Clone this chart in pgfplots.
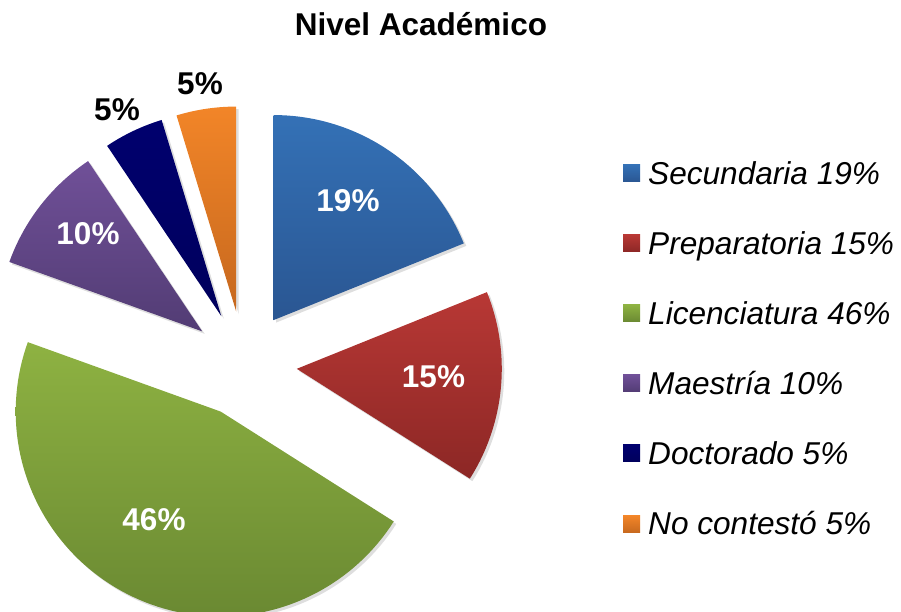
\documentclass[border=0pt]{standalone}
\usepackage{pgfplots}
\pgfplotsset{compat=1.18}
\usepackage{fontspec}
\setmainfont{Liberation Sans}

\definecolor{secT}{RGB}{52,113,182}
\definecolor{secB}{RGB}{42,86,146}
\definecolor{preT}{RGB}{184,56,53}
\definecolor{preB}{RGB}{140,39,37}
\definecolor{licT}{RGB}{142,178,66}
\definecolor{licB}{RGB}{106,137,50}
\definecolor{maeT}{RGB}{112,80,152}
\definecolor{maeB}{RGB}{82,60,116}
\definecolor{docT}{RGB}{0,0,110}
\definecolor{docB}{RGB}{0,0,92}
\definecolor{ncT}{RGB}{242,133,40}
\definecolor{ncB}{RGB}{198,104,30}

% pie geometry (axis units = pixels): centre, radius, explosion
\def\pcx{244}\def\pcy{248}\def\prad{205}\def\pexp{53}
\gdef\cum{0}
\newcommand\slice[3]{%
  \pgfmathsetmacro\sa{90-3.6*\cum}%
  \pgfmathsetmacro\sb{90-3.6*(\cum+#1)}%
  \pgfmathsetmacro\smid{(\sa+\sb)/2}%
  \pgfmathsetmacro\ax{\pcx+\pexp*cos(\smid)}%
  \pgfmathsetmacro\ay{\pcy+\pexp*sin(\smid)}%
  \pgfmathsetmacro\sx{\ax+2.5}%
  \pgfmathsetmacro\sy{\ay-2.5}%
  \edef\temp{\noexpand\addplot[draw=none, fill=black, fill opacity=0.13,
     domain=\sb:\sa, samples=90, variable=\noexpand\t, forget plot]
     ({\sx+\prad*cos(\noexpand\t)}, {\sy+\prad*sin(\noexpand\t)})
     -- (axis cs:\sx,\sy) -- cycle;
     \noexpand\addplot[draw=none, top color=#2, bottom color=#3,
     domain=\sb:\sa, samples=90, variable=\noexpand\t]
     ({\ax+\prad*cos(\noexpand\t)}, {\ay+\prad*sin(\noexpand\t)})
     -- (axis cs:\ax,\ay) -- cycle;}%
  \temp
  \pgfmathsetmacro\tmpc{\cum+#1}%
  \xdef\cum{\tmpc}%
}

\begin{document}
\begin{tikzpicture}
\begin{axis}[width=901bp, height=612bp, scale only axis,
  xmin=0, xmax=901, ymin=0, ymax=612, hide axis, clip=true]
% percentages (Secundaria, Preparatoria, Licenciatura, Maestria, Doctorado, No contesto)
\slice{18.9}{secT}{secB}
\slice{15.1}{preT}{preB}
\slice{46.5}{licT}{licB}
\slice{10.1}{maeT}{maeB}
\slice{4.7}{docT}{docB}
\slice{4.7}{ncT}{ncB}

% title
\node[anchor=base, font=\fontsize{31.5bp}{36bp}\selectfont\bfseries] at (axis cs:421,576) {Nivel Académico};

% slice labels
\begin{scope}[font=\fontsize{31.5bp}{36bp}\selectfont\bfseries]
\node[anchor=base, text=white] at (axis cs:348,400) {19\%};
\node[anchor=base, text=white] at (axis cs:433.5,224) {15\%};
\node[anchor=base, text=white] at (axis cs:154,81) {46\%};
\node[anchor=base, text=white] at (axis cs:88,367) {10\%};
\node[anchor=base, text=black] at (axis cs:117,491) {5\%};
\node[anchor=base, text=black] at (axis cs:200,517) {5\%};
\end{scope}

% legend
\fill[top color=secT, bottom color=secB] (axis cs:623,447) rectangle (axis cs:640,430);
\fill[top color=preT, bottom color=preB] (axis cs:623,377) rectangle (axis cs:640,360);
\fill[top color=licT, bottom color=licB] (axis cs:623,307) rectangle (axis cs:640,290);
\fill[top color=maeT, bottom color=maeB] (axis cs:623,237) rectangle (axis cs:640,220);
\fill[top color=docT, bottom color=docB] (axis cs:623,167) rectangle (axis cs:640,150);
\fill[top color=ncT, bottom color=ncB] (axis cs:623,96) rectangle (axis cs:640,79);
\begin{scope}[font=\fontsize{31.6bp}{36bp}\selectfont\itshape]
\node[anchor=base west, inner sep=0pt] at (axis cs:648,427.5) {Secundaria 19\%};
\node[anchor=base west, inner sep=0pt] at (axis cs:648,357.5) {Preparatoria 15\%};
\node[anchor=base west, inner sep=0pt] at (axis cs:648,287.5) {Licenciatura 46\%};
\node[anchor=base west, inner sep=0pt] at (axis cs:648,217.5) {Maestría 10\%};
\node[anchor=base west, inner sep=0pt] at (axis cs:648,147.5) {Doctorado 5\%};
\node[anchor=base west, inner sep=0pt] at (axis cs:648,77) {No contestó 5\%};
\end{scope}
\end{axis}
\pgfresetboundingbox
\path (current axis.south west) rectangle (current axis.north east);
\end{tikzpicture}
\end{document}
